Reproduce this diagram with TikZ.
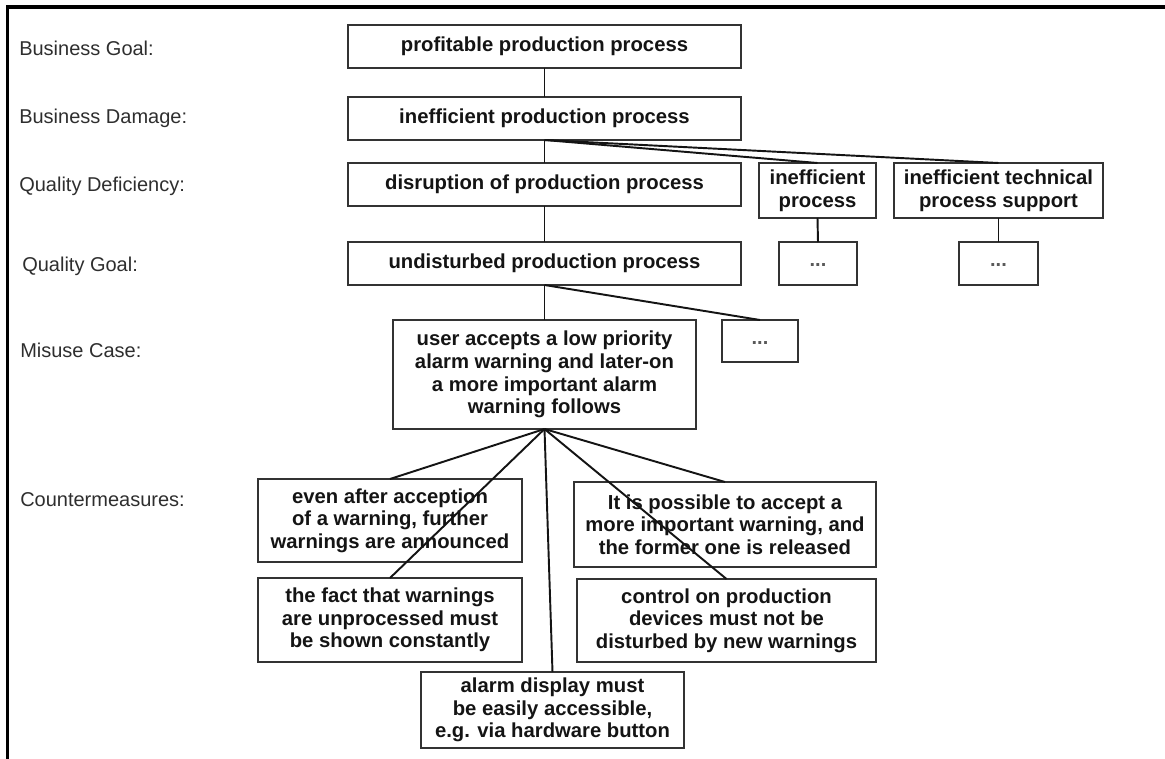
\documentclass[tikz,border=0pt]{standalone}
\usepackage{fontspec}
\setmainfont{Liberation Sans}
\begin{document}
\begin{tikzpicture}[x=0.75pt,y=-0.75pt,
  box/.style={draw=black!80,line width=1.3pt,inner sep=0pt,outer sep=0pt,
    align=center,font=\fontsize{15.2}{17}\selectfont\bfseries,text=black!92},
  dots/.style={box,font=\fontsize{15}{17}\selectfont\bfseries,text=black!65,yshift=-1.5pt},
  level/.style={anchor=base west,inner sep=0pt,font=\fontsize{15}{17}\selectfont,text=black!82},
  link/.style={draw=black!92,line width=1.45pt}]
\useasboundingbox (0,0) rectangle (1165,759);
% frame (top and left edges)
\draw[line width=2.3pt,black] (7.5,759) -- (7.5,7) -- (1165,7);

% level labels
\node[level] (lg)  at (19,56)  {Business Goal:};
\node[level] (ld)  at (19,124) {Business Damage:};
\node[level] (lq)  at (19,192) {Quality Deficiency:};
\node[level] (lqg) at (22,272) {Quality Goal:};
\node[level] (lm)  at (20,358) {Misuse Case:};
\node[level] (lc)  at (20,507) {Countermeasures:};

% goal chain
\node[box,minimum width=294.75pt,minimum height=32.25pt] (goal)   at (544.5,46.5)  {profitable production process};
\node[box,minimum width=294.75pt,minimum height=32.25pt] (damage) at (544.5,118.5) {inefficient production process};
\node[box,minimum width=294.75pt,minimum height=32.25pt] (disr)   at (544.5,184.5) {disruption of production process};
\node[box,minimum width=87.75pt,minimum height=41.25pt]  (ineffp) at (817.5,190.5) {inefficient\\process};
\node[box,minimum width=156.75pt,minimum height=41.25pt] (inefft) at (998.5,190.5) {inefficient technical\\process support};
\node[box,minimum width=294.75pt,minimum height=32.25pt] (undist) at (544.5,263.5) {undisturbed production process};
\node[box,minimum width=58.5pt,minimum height=32.25pt]   (more1)  at (818,263.5)   {};
\node[box,minimum width=59.25pt,minimum height=32.25pt]  (more2)  at (998.5,263.5) {};

% misuse case
\node[box,minimum width=227.25pt,minimum height=81.75pt] (misuse) at (544.5,374.5)
  {user accepts a low priority\\alarm warning and later-on\\a more important alarm\\warning follows};
\node[box,minimum width=57pt,minimum height=31.5pt] (more3) at (760,341) {};

% ellipsis marks inside the open-ended boxes
\node[dots,draw=none] (t1) at (more1.center) {...};
\node[dots,draw=none] (t2) at (more2.center) {...};
\node[dots,draw=none] (t3) at (more3.center) {...};

% countermeasures
\node[box,minimum width=198pt,minimum height=62.25pt] (cmA) at (390,520.5)
  {even after acception\\of a warning, further\\warnings are announced};
\node[box,minimum width=198pt,minimum height=63pt] (cmB) at (390,620)
  {the fact that warnings\\are unprocessed must\\be shown constantly};
\node[box,minimum width=226.5pt,minimum height=63.75pt] (cmC) at (725,524.5)
  {It is possible to accept a\\more important warning, and\\the former one is released};
\node[box,minimum width=224.25pt,minimum height=62.25pt] (cmD) at (726.5,620.5)
  {control on production\\devices must not be\\disturbed by new warnings};
\node[box,minimum width=197.25pt,minimum height=57pt] (cmE) at (552.5,710)
  {alarm display must\\be easily accessible,\\e.g. via hardware button};

% connectors
\draw[link] (goal.south) -- (damage.north);
\draw[link] (damage.south) -- (disr.north);
\draw[link] (damage.south) -- (ineffp.north);
\draw[link] (damage.south) -- (inefft.north);
\draw[link] (disr.south) -- (undist.north);
\draw[link] (ineffp.south) -- (more1.north);
\draw[link] (inefft.south) -- (more2.north);
\draw[link] (undist.south) -- (misuse.north);
\draw[link] (undist.south) -- (more3.north);
\draw[link] (misuse.south) -- (cmA.north);
\draw[link] (misuse.south) -- (cmB.north);
\draw[link] (misuse.south) -- (cmC.north);
\draw[link] (misuse.south) -- (cmD.north);
\draw[link] (misuse.south) -- (cmE.north);
\end{tikzpicture}
\end{document}
